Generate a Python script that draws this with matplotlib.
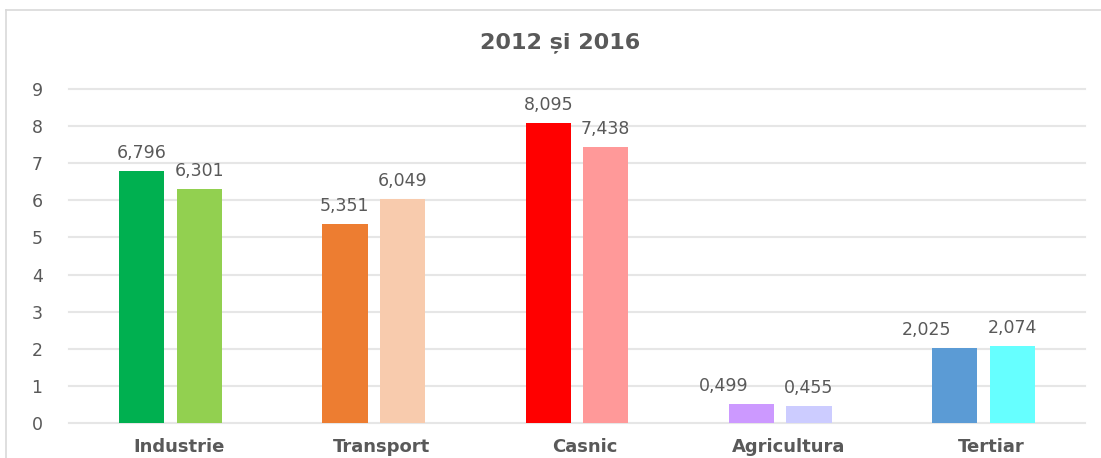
import matplotlib
matplotlib.use("Agg")
import matplotlib.pyplot as plt
import matplotlib.transforms as mtransforms
from matplotlib.lines import Line2D
import numpy as np

categories = ["Industrie", "Transport", "Casnic", "Agricultura", "Tertiar"]
values_2012 = [6.796, 5.351, 8.095, 0.499, 2.025]
values_2016 = [6.301, 6.049, 7.438, 0.455, 2.074]
labels_2012 = ["6,796", "5,351", "8,095", "0,499", "2,025"]
labels_2016 = ["6,301", "6,049", "7,438", "0,455", "2,074"]
title = "2012 și 2016"

colors_2012 = ["#00B050", "#ED7D31", "#FF0000", "#CC99FF", "#5B9BD5"]
colors_2016 = ["#92D050", "#F8CBAD", "#FF9999", "#CCCCFF", "#66FFFF"]
# horizontal nudges (pixels) of value labels, as in the reference
dx_2012 = [0, -1, 0, -28, -28]
dx_2016 = [0, 0, 0, 0, 0]

W, H = 1101, 458
fig = plt.figure(figsize=(W / 100, H / 100), dpi=100)
ax = fig.add_axes([69 / W, 1 - 423 / H, (1085 - 69) / W, (423 - 89) / H])

x = np.arange(len(categories))
bw = 0.222
off = 0.1415
b1 = ax.bar(x - off, values_2012, width=bw, color=colors_2012, zorder=3)
b2 = ax.bar(x + off, values_2016, width=bw, color=colors_2016, zorder=3)

txt_color = "#595959"
for bars, labs, dxs in ((b1, labels_2012, dx_2012), (b2, labels_2016, dx_2016)):
    for r, lab, dx in zip(bars, labs, dxs):
        ax.annotate(lab, (r.get_x() + r.get_width() / 2, r.get_height()),
                    xytext=(dx, 13), textcoords="offset pixels",
                    ha="center", va="baseline", fontsize=12.5, color=txt_color,
                    zorder=4)

ax.set_xlim(-0.5, len(categories) - 0.5)
ax.set_ylim(0, 9)
ax.set_yticks(range(0, 10))
ax.yaxis.grid(True, color="#E6E6E6", linewidth=1.5, zorder=0)
for gl in ax.get_ygridlines():
    gl.set_clip_on(False)
ax.set_axisbelow(True)
for s in ax.spines.values():
    s.set_visible(False)
ax.tick_params(axis="y", length=0, pad=19, labelsize=12.5, labelcolor=txt_color)
ax.tick_params(axis="x", length=0, pad=11, labelsize=13, labelcolor=txt_color)
ax.set_xticks(x)
ax.set_xticklabels(categories, fontweight="bold")
shift = mtransforms.ScaledTranslation(8 / 100, 0, fig.dpi_scale_trans)
for lbl in ax.get_xticklabels():
    lbl.set_transform(lbl.get_transform() + shift)

fig.text(560 / W, 1 - 43 / H, title, ha="center", va="center",
         fontsize=16, fontweight="bold", color=txt_color)

# chart border (left and top edges visible)
fig.add_artist(Line2D([6 / W, 6 / W], [0, 1 - 10 / H], transform=fig.transFigure,
                      color="#D9D9D9", linewidth=1.2))
fig.add_artist(Line2D([6 / W, 1], [1 - 10 / H, 1 - 10 / H], transform=fig.transFigure,
                      color="#D9D9D9", linewidth=1.2))

fig.savefig("out.png", dpi=100)
